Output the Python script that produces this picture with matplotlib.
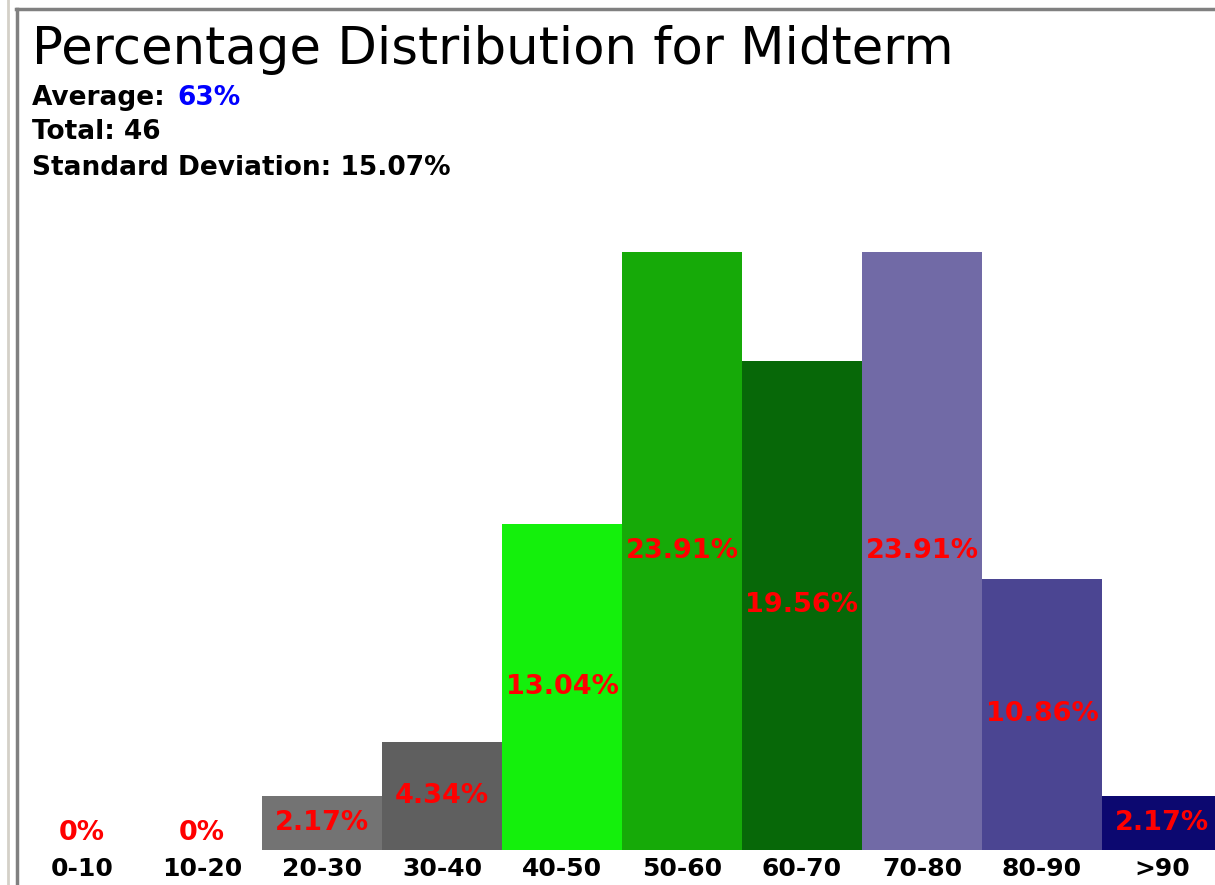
"""Percentage distribution for midterm — bar chart."""

import matplotlib
matplotlib.use("Agg")
import matplotlib.pyplot as plt
from matplotlib.lines import Line2D
import numpy as np

# ── data ────────────────────────────────────────────────
categories = ["0-10", "10-20", "20-30", "30-40", "40-50",
              "50-60", "60-70", "70-80", "80-90", ">90"]
percentages = [0, 0, 2.17, 4.34, 13.04, 23.91, 19.56, 23.91, 10.86, 2.17]
bar_colors = ["#ffffff", "#ffffff", "#737373", "#5f5f5f", "#14f00c",
              "#16aa08", "#076808", "#716aa6", "#4b4592", "#0c0870"]
average = "63%"
total = 46
std_dev = "15.07%"

W, H = 1215, 885
DPI = 100
plt.rcParams["font.family"] = ["DejaVu Sans"]

fig = plt.figure(figsize=(W / DPI, H / DPI), dpi=DPI)
fig.patch.set_facecolor("white")

# axes in pixel terms: bars start at x=22, each 120 px wide, baseline y=850
left, base = 22, 850
bar_w = 120
ymax = 30
px_per_unit = 25
ax = fig.add_axes([left / W, (H - base) / H,
                   bar_w * len(categories) / W, ymax * px_per_unit / H])
x = np.arange(len(categories))
ax.bar(x, percentages, width=1.0, color=bar_colors, align="center")
ax.set_xlim(-0.5, len(categories) - 0.5)
ax.set_ylim(0, ymax)
ax.set_axis_off()

for xi, v in zip(x, percentages):
    label = f"{v:g}%"
    ax.text(xi, max(v / 2, 0.7), label, ha="center", va="center",
            color="red", fontsize=19.5, fontweight="bold")
    ax.text(xi, -0.3, categories[xi], ha="center", va="top",
            color="black", fontsize=18, fontweight="bold", clip_on=False)

# ── header ──────────────────────────────────────────────
fig.text(32 / W, 1 - 50 / H, "Percentage Distribution for Midterm",
         ha="left", va="center", fontsize=37, color="black")
fig.text(32 / W, 1 - 98 / H, "Average: ", ha="left", va="center",
         fontsize=19, fontweight="bold")
fig.text(177 / W, 1 - 98 / H, average, ha="left", va="center",
         fontsize=19, fontweight="bold", color="#0000ff")
fig.text(32 / W, 1 - 132 / H, f"Total: {total}", ha="left", va="center",
         fontsize=19, fontweight="bold")
fig.text(32 / W, 1 - 168 / H, f"Standard Deviation: {std_dev}",
         ha="left", va="center", fontsize=19, fontweight="bold")

# ── panel borders ───────────────────────────────────────
fig.add_artist(Line2D([8 / W, 8 / W], [0, 1], color="#d4d0c8", lw=2))
fig.add_artist(Line2D([17 / W, 17 / W], [0, 1 - 9 / H], color="#808080", lw=2.5))
fig.add_artist(Line2D([16 / W, 1], [1 - 9 / H, 1 - 9 / H], color="#808080", lw=2.5))

fig.savefig("out.png", dpi=DPI, facecolor="white")
